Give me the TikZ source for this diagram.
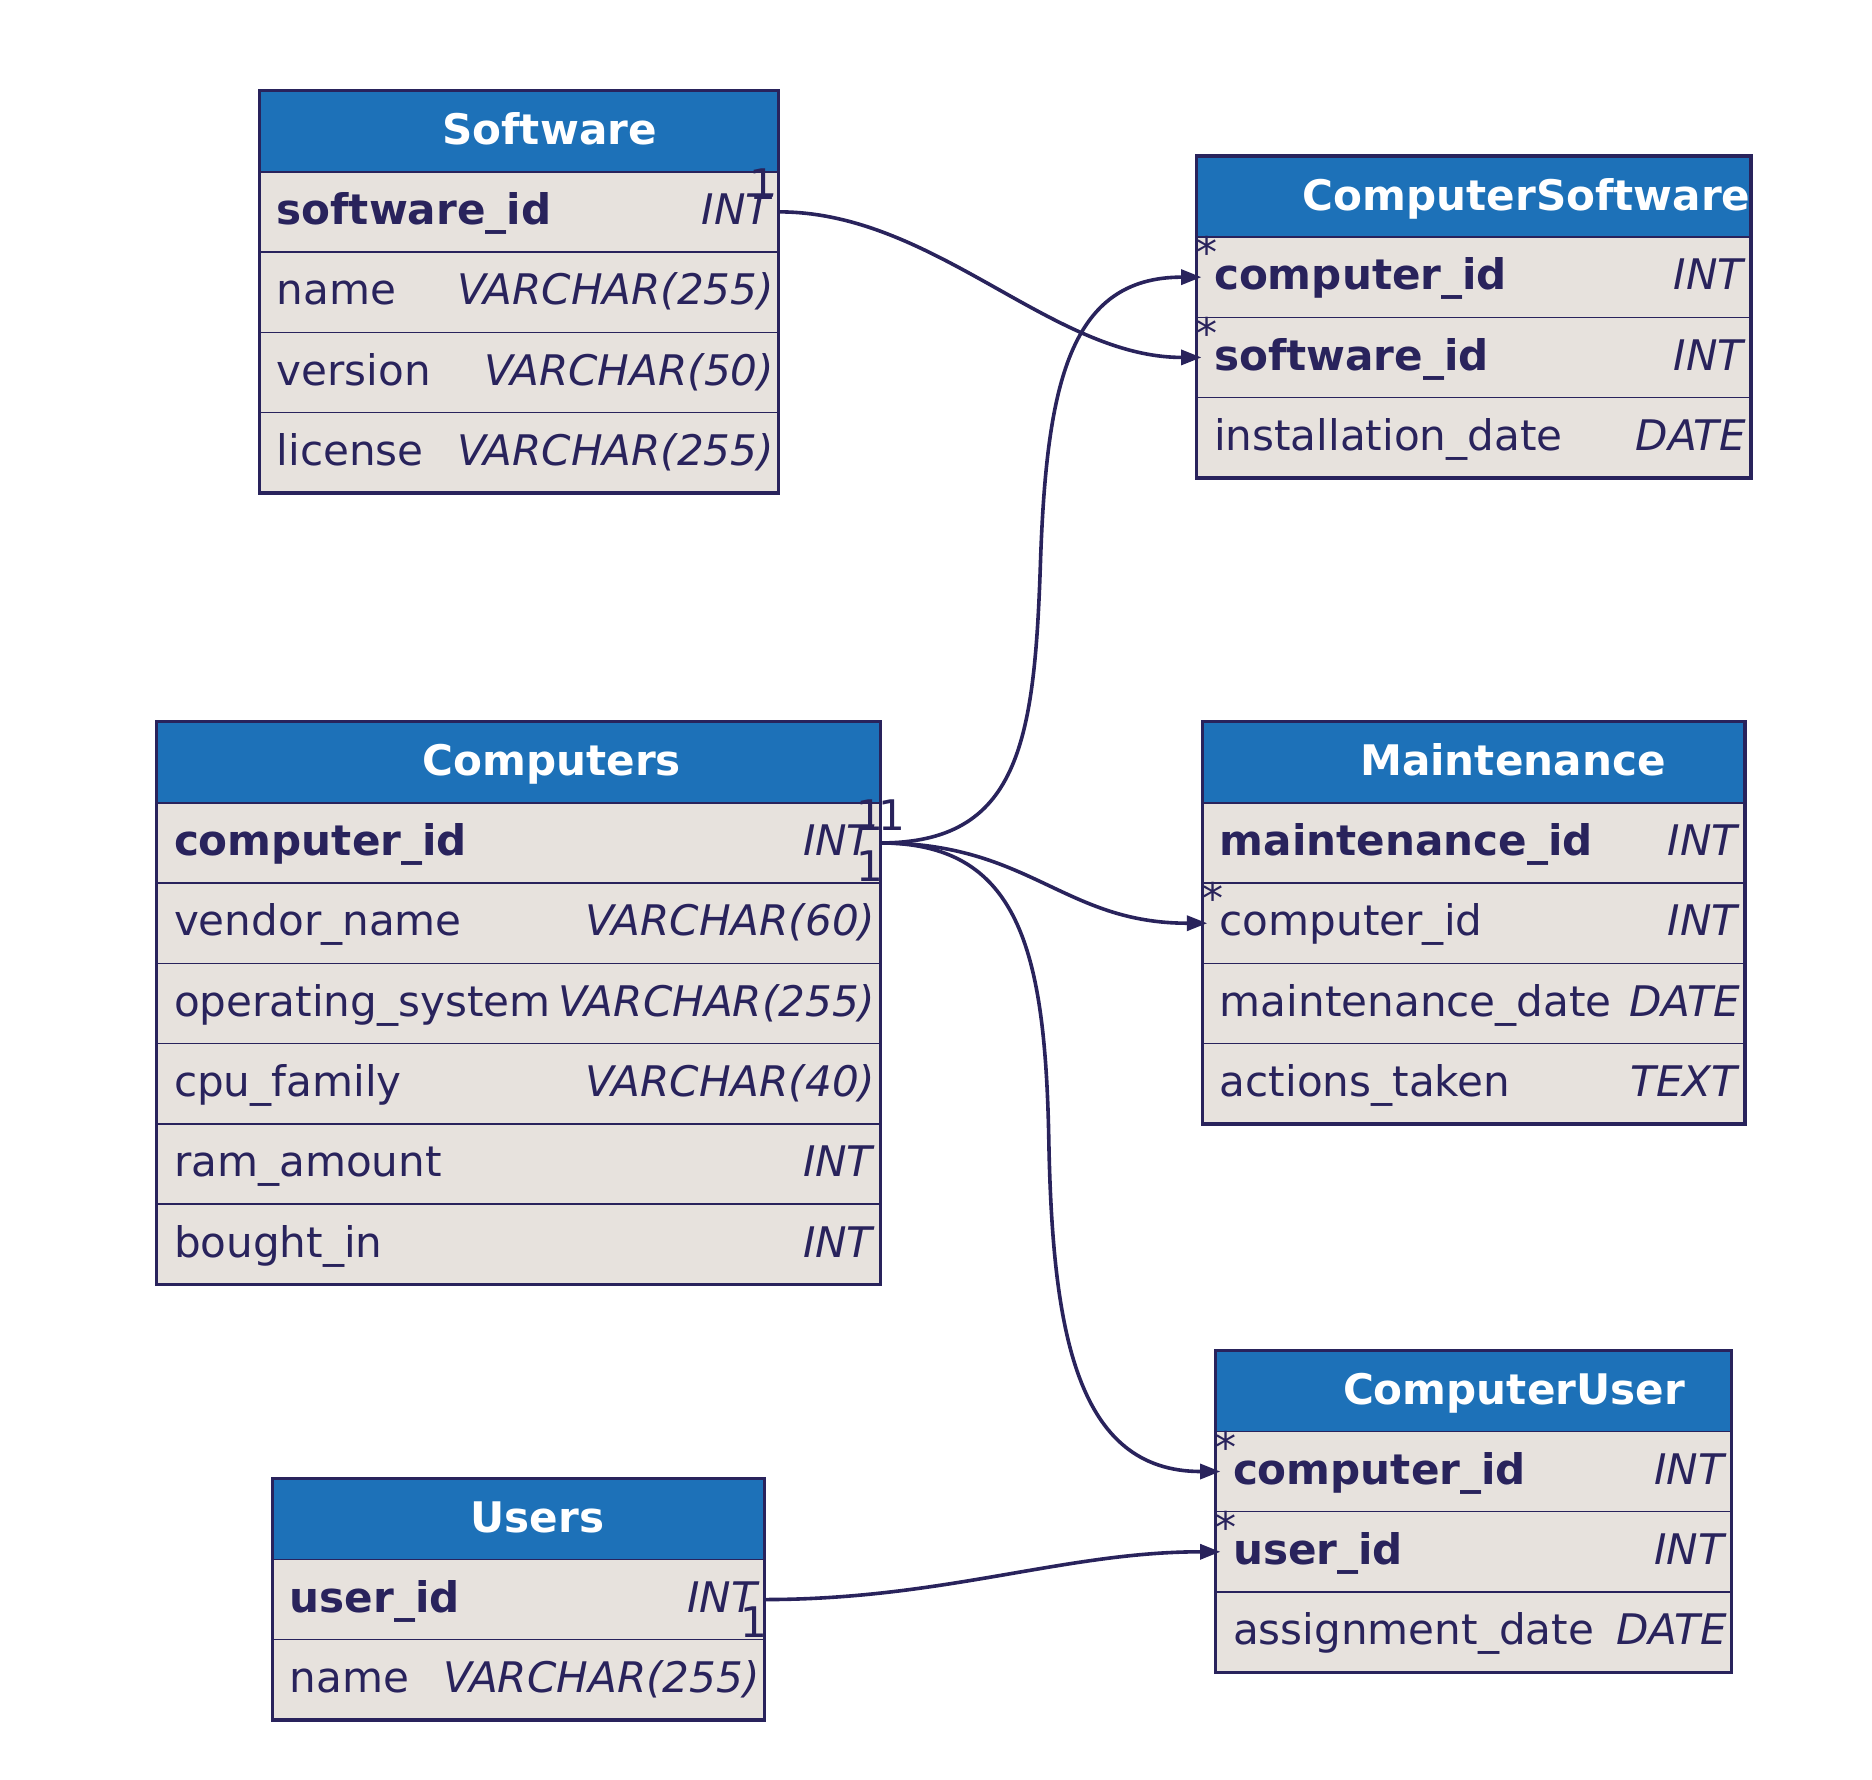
\documentclass[tikz,border=0pt]{standalone}
\usepackage{fontspec}
\setmainfont{DejaVu Sans}
\usepackage{tikz}
\usetikzlibrary{positioning,arrows.meta}

\definecolor{navy}{HTML}{29235C}
\definecolor{headbg}{HTML}{1D71B8}
\definecolor{rowbg}{HTML}{E7E2DD}

\newcommand{\fld}[2]{\hbox to \tw pt{\rule[-22.9pt]{0pt}{66.9pt}\kern14.5pt #1\hss #2\kern4pt}}
\newcommand{\ttl}[2]{\hbox to \tw pt{\rule[-22.5pt]{0pt}{67.5pt}\hfill\kern#1pt #2\hfill}}

\begin{document}
\begin{tikzpicture}[x=1pt,y=-1pt,>={Triangle[length=17pt,width=12.5pt]},
    font=\fontsize{35.1}{42}\selectfont,text=navy,
    head/.style={fill=headbg,text=white,font=\fontsize{35.1}{42}\selectfont\bfseries,inner sep=0pt,outer sep=0pt,anchor=north west},
    row/.style={fill=rowbg,draw=navy,line width=1.3pt,inner sep=0pt,outer sep=0pt},
    frame/.style={draw=navy,line width=2.8pt},
    rel/.style={draw=navy,line width=3pt,->},
    card/.style={inner sep=0pt,outer sep=0pt,text=navy}]
    \useasboundingbox (0,0) rectangle (1560,1482.5);

    \def\tw{433}
    \node[head] (sw-h) at (216,75.6) {\ttl{51}{Software}};
    \node[row] (sw-id)   [below=0pt of sw-h]    {\fld{\textbf{software\_id}}{\textit{INT}}};
    \node[row] (sw-name) [below=0pt of sw-id]   {\fld{name}{\textit{VARCHAR(255)}}};
    \node[row] (sw-ver)  [below=0pt of sw-name] {\fld{version}{\textit{VARCHAR(50)}}};
    \node[row] (sw-lic)  [below=0pt of sw-ver]  {\fld{license}{\textit{VARCHAR(255)}}};
    \draw[frame] (sw-h.north west) rectangle (sw-lic.south east);

    \def\tw{462}
    \node[head] (cs-h) at (997.2,130) {\ttl{88}{ComputerSoftware}};
    \node[row] (cs-cid)  [below=0pt of cs-h]   {\fld{\textbf{computer\_id}}{\textit{INT}}};
    \node[row] (cs-sid)  [below=0pt of cs-cid] {\fld{\textbf{software\_id}}{\textit{INT}}};
    \node[row] (cs-date) [below=0pt of cs-sid] {\fld{installation\_date}{\textit{DATE}}};
    \draw[frame] (cs-h.north west) rectangle (cs-date.south east);

    \def\tw{603}
    \node[head] (cp-h) at (130.5,601.5) {\ttl{55.4}{Computers}};
    \node[row] (cp-id)   [below=0pt of cp-h]   {\fld{\textbf{computer\_id}}{\textit{INT}}};
    \node[row] (cp-ven)  [below=0pt of cp-id]  {\fld{vendor\_name}{\textit{VARCHAR(60)}}};
    \node[row] (cp-os)   [below=0pt of cp-ven] {\fld{operating\_system}{\textit{VARCHAR(255)}}};
    \node[row] (cp-cpu)  [below=0pt of cp-os]  {\fld{cpu\_family}{\textit{VARCHAR(40)}}};
    \node[row] (cp-ram)  [below=0pt of cp-cpu] {\fld{ram\_amount}{\textit{INT}}};
    \node[row] (cp-buy)  [below=0pt of cp-ram] {\fld{bought\_in}{\textit{INT}}};
    \draw[frame] (cp-h.north west) rectangle (cp-buy.south east);

    \def\tw{452}
    \node[head] (mt-h) at (1002,601.5) {\ttl{65.4}{Maintenance}};
    \node[row] (mt-id)   [below=0pt of mt-h]   {\fld{\textbf{maintenance\_id}}{\textit{INT}}};
    \node[row] (mt-cid)  [below=0pt of mt-id]  {\fld{computer\_id}{\textit{INT}}};
    \node[row] (mt-date) [below=0pt of mt-cid] {\fld{maintenance\_date}{\textit{DATE}}};
    \node[row] (mt-act)  [below=0pt of mt-date] {\fld{actions\_taken}{\textit{TEXT}}};
    \draw[frame] (mt-h.north west) rectangle (mt-act.south east);

    \def\tw{430}
    \node[head] (cu-h) at (1013,1125.3) {\ttl{67.4}{ComputerUser}};
    \node[row] (cu-cid)  [below=0pt of cu-h]   {\fld{\textbf{computer\_id}}{\textit{INT}}};
    \node[row] (cu-uid)  [below=0pt of cu-cid] {\fld{\textbf{user\_id}}{\textit{INT}}};
    \node[row] (cu-date) [below=0pt of cu-uid] {\fld{assignment\_date}{\textit{DATE}}};
    \draw[frame] (cu-h.north west) rectangle (cu-date.south east);

    \def\tw{410}
    \node[head] (us-h) at (227,1232) {\ttl{31.6}{Users}};
    \node[row] (us-id)   [below=0pt of us-h]  {\fld{\textbf{user\_id}}{\textit{INT}}};
    \node[row] (us-name) [below=0pt of us-id] {\fld{name}{\textit{VARCHAR(255)}}};
    \draw[frame] (us-h.north west) rectangle (us-name.south east);

    \coordinate (bend-cs) at (867,470);
    \coordinate (bend-cu) at (874,950);

    \draw[rel] (sw-id.east) .. controls +(130,0) and +(-125,0) .. ([xshift=4pt]cs-sid.west);
    \draw[rel] (cp-id.east) .. controls +(115,0) and +(-5,150) .. (bend-cs)
                            .. controls +(5,-150) and +(-110,0) .. ([xshift=4pt]cs-cid.west);
    \draw[rel] (cp-id.east) .. controls +(125,0) and +(-120,0) .. ([xshift=4pt]mt-cid.west);
    \draw[rel] (cp-id.east) .. controls +(115,0) and +(-3,-160) .. (bend-cu)
                            .. controls +(3,160) and +(-120,0) .. ([xshift=4pt]cu-cid.west);
    \draw[rel] (us-id.east) .. controls +(150,0) and +(-130,0) .. ([xshift=4pt]cu-uid.west);

    \node[card,anchor=base east] (sw-one)  at ([xshift=-2pt,yshift=10pt]sw-id.east) {1};
    \node[card,anchor=base east] (cp-one)  at ([xshift=2.9pt,yshift=10.7pt]cp-id.east) {1};
    \node[card,anchor=base west] (cp-two)  at ([xshift=-1.5pt,yshift=10.7pt]cp-id.east) {1};
    \node[card,anchor=base east] (cp-tre)  at ([xshift=2.9pt,yshift=-32.3pt]cp-id.east) {1};
    \node[card,anchor=base east] (us-one)  at ([xshift=2pt,yshift=-31.3pt]us-id.east) {1};
    \node[card,anchor=base west] (cs-mny1) at ([xshift=-0.3pt,yshift=7.8pt]cs-cid.west) {*};
    \node[card,anchor=base west] (cs-mny2) at ([xshift=-0.3pt,yshift=7.8pt]cs-sid.west) {*};
    \node[card,anchor=base west] (mt-mny)  at ([xshift=-0.3pt,yshift=7.8pt]mt-cid.west) {*};
    \node[card,anchor=base west] (cu-mny1) at ([xshift=-0.3pt,yshift=7.8pt]cu-cid.west) {*};
    \node[card,anchor=base west] (cu-mny2) at ([xshift=-0.3pt,yshift=7.8pt]cu-uid.west) {*};
\end{tikzpicture}
\end{document}
